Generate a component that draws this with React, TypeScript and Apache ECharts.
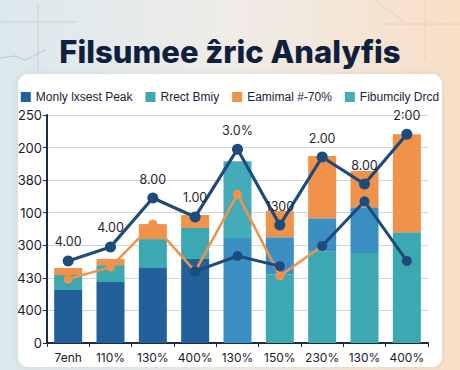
import React, { useEffect, useRef } from "react";
import * as echarts from "echarts";

const titleText = "Filsumee ẑric Analyfis";
const categories = ["7enh", "110%", "130%", "400%", "130%", "150%", "230%", "130%", "400%"];
const yTickLabels = ["0", "400", "430", "300", "100", "380", "200", "250"];

const legendNames = ["Monly lxsest Peak", "Rrect Bmiy", "Eamimal #-70%", "Fibumcily Drcd"];

// stacked bar segments (axis units)
const darkBlueBars = [1.63, 1.87, 2.3, 2.58, 0, 0, 0, 0, 0];
const tealLowBars = [0.46, 0.52, 0.89, 0.95, 0, 2.1, 2.8, 2.76, 3.4];
const midBlueBars = [0, 0, 0, 0, 3.22, 1.15, 1.03, 1.41, 0];
const tealHighBars = [0, 0, 0, 0, 2.36, 0, 0, 0, 0];
const orangeBars = [0.21, 0.19, 0.46, 0.4, 0, 0.8, 1.91, 1.11, 3.01];

// lines
const navyMain = [2.52, 2.95, 4.45, 3.87, 5.95, 3.62, 5.71, 4.88, 6.41];
const navyMainLabels = ["4.00", "4.00", "8.00", "1.00", "3.0%", "1300", "2.00", "8.00", "2:00"];
const navyLow = ["-", "-", "-", 2.2, 2.67, 2.36, "-", "-", "-"];
const navyTail = ["-", "-", "-", "-", "-", "-", 2.98, 4.35, 2.52];
const orangeLine = [1.96, 2.33, 3.65, 2.2, 4.57, 2.06, 2.98, "-", "-"];

const C_DARK = "#23609a";
const C_TEAL = "#3ba8b2";
const C_MID = "#3c8fc2";
const C_ORANGE = "#f0924a";
const C_NAVY = "#1d4b7c";

export default function App() {
  const ref = useRef<HTMLDivElement>(null);
  useEffect(() => {
    if (!ref.current) return;
    const chart = echarts.init(ref.current, null, { renderer: "svg" });
    const font = "Inter, 'Noto Sans', sans-serif";
    chart.setOption({
      animation: false,
      backgroundColor: {
        type: "linear",
        x: 0, y: 0, x2: 1, y2: 0,
        colorStops: [
          { offset: 0, color: "#dbe8ed" },
          { offset: 0.5, color: "#efece8" },
          { offset: 1, color: "#f8dfc6" },
        ],
      },
      graphic: [
        { type: "line", shape: { x1: 0, y1: 22, x2: 76, y2: 22 }, style: { stroke: "#c5d2d8", lineWidth: 1 }, z: -20 },
        { type: "line", shape: { x1: 38, y1: 4, x2: 38, y2: 70 }, style: { stroke: "#c5d2d8", lineWidth: 1 }, z: -20 },
        { type: "polyline", shape: { points: [[0, 58], [15, 56], [25, 60], [45, 50]] }, style: { stroke: "#b9c8cf", lineWidth: 1, fill: "none" }, z: -20 },
        { type: "line", shape: { x1: 375, y1: 0, x2: 405, y2: 22 }, style: { stroke: "#ecd0b8", lineWidth: 1 }, z: -20 },
        { type: "line", shape: { x1: 385, y1: 24, x2: 460, y2: 24 }, style: { stroke: "#ecd0b8", lineWidth: 1 }, z: -20 },
        { type: "line", shape: { x1: 425, y1: 0, x2: 425, y2: 60 }, style: { stroke: "#ecd0b8", lineWidth: 1 }, z: -20 },
        {
          type: "rect",
          shape: { x: 18, y: 74, width: 424, height: 293, r: 10 },
          style: { fill: "#ffffff", shadowBlur: 6, shadowColor: "rgba(0,0,0,0.08)" },
          z: -10,
        },
      ],
      title: {
        text: titleText,
        left: "center",
        top: 31,
        textStyle: { fontFamily: font, fontSize: 31, fontWeight: 800, color: "#0f1f3d" },
      },
      legend: {
        data: legendNames,
        top: 86,
        left: "center",
        width: 450,
        itemWidth: 10,
        itemHeight: 10,
        itemGap: 13,
        icon: "rect",
        textStyle: { fontFamily: "'Liberation Sans', Arial, sans-serif", fontSize: 12, color: "#1a2238" },
      },
      grid: { left: 47, right: 32, top: 115, bottom: 27 },
      xAxis: {
        type: "category",
        data: categories,
        axisLine: { lineStyle: { color: "#1a2b44", width: 2 } },
        axisTick: { show: true, length: 4, lineStyle: { color: "#1a2b44" } },
        axisLabel: { interval: 0, fontFamily: font, fontSize: 12, color: "#1a1a2e", margin: 8 },
      },
      yAxis: {
        type: "value",
        min: 0,
        max: 7,
        interval: 1,
        axisLine: { show: true, lineStyle: { color: "#1a2b44", width: 2 } },
        axisTick: { show: true, length: 4, lineStyle: { color: "#1a2b44" } },
        axisLabel: {
          fontFamily: font,
          fontSize: 13,
          color: "#1a1a2e",
          margin: 5,
          formatter: (v: number) => yTickLabels[Math.round(v)] ?? "",
        },
        splitLine: { lineStyle: { color: "#d3d7db", width: 1 } },
      },
      series: [
        { name: legendNames[0], type: "bar", stack: "s", barWidth: 28, data: darkBlueBars, itemStyle: { color: C_DARK } },
        { name: legendNames[1], type: "bar", stack: "s", barWidth: 28, data: tealLowBars, itemStyle: { color: C_TEAL } },
        { name: "mid", type: "bar", stack: "s", barWidth: 28, data: midBlueBars, itemStyle: { color: C_MID } },
        { name: legendNames[3], type: "bar", stack: "s", barWidth: 28, data: tealHighBars, itemStyle: { color: "#44abb8" } },
        { name: legendNames[2], type: "bar", stack: "s", barWidth: 28, data: orangeBars, itemStyle: { color: C_ORANGE } },
        {
          name: "orangeLine", type: "line", data: orangeLine, z: 3,
          symbol: "circle", symbolSize: 9,
          lineStyle: { color: C_ORANGE, width: 2.5 },
          itemStyle: { color: C_ORANGE },
        },
        {
          name: "navyLow", type: "line", data: navyLow, z: 4,
          symbol: "circle", symbolSize: 10,
          lineStyle: { color: C_NAVY, width: 3 },
          itemStyle: { color: C_NAVY },
        },
        {
          name: "navyTail", type: "line", data: navyTail, z: 4,
          symbol: "circle", symbolSize: 10,
          lineStyle: { color: C_NAVY, width: 3 },
          itemStyle: { color: C_NAVY },
        },
        {
          name: "navyMain", type: "line", data: navyMain, z: 5,
          symbol: "circle", symbolSize: 11,
          lineStyle: { color: C_NAVY, width: 3.2 },
          itemStyle: { color: C_NAVY },
          label: {
            show: true,
            position: "top",
            distance: 7,
            fontFamily: font,
            fontSize: 12.5,
            color: "#1f2430",
            formatter: (p: any) => navyMainLabels[p.dataIndex],
          },
        },
      ],
    });
    return () => chart.dispose();
  }, []);
  return <div ref={ref} style={{ position: "fixed", left: 0, top: 0, width: 460, height: 370 }} />;
}
